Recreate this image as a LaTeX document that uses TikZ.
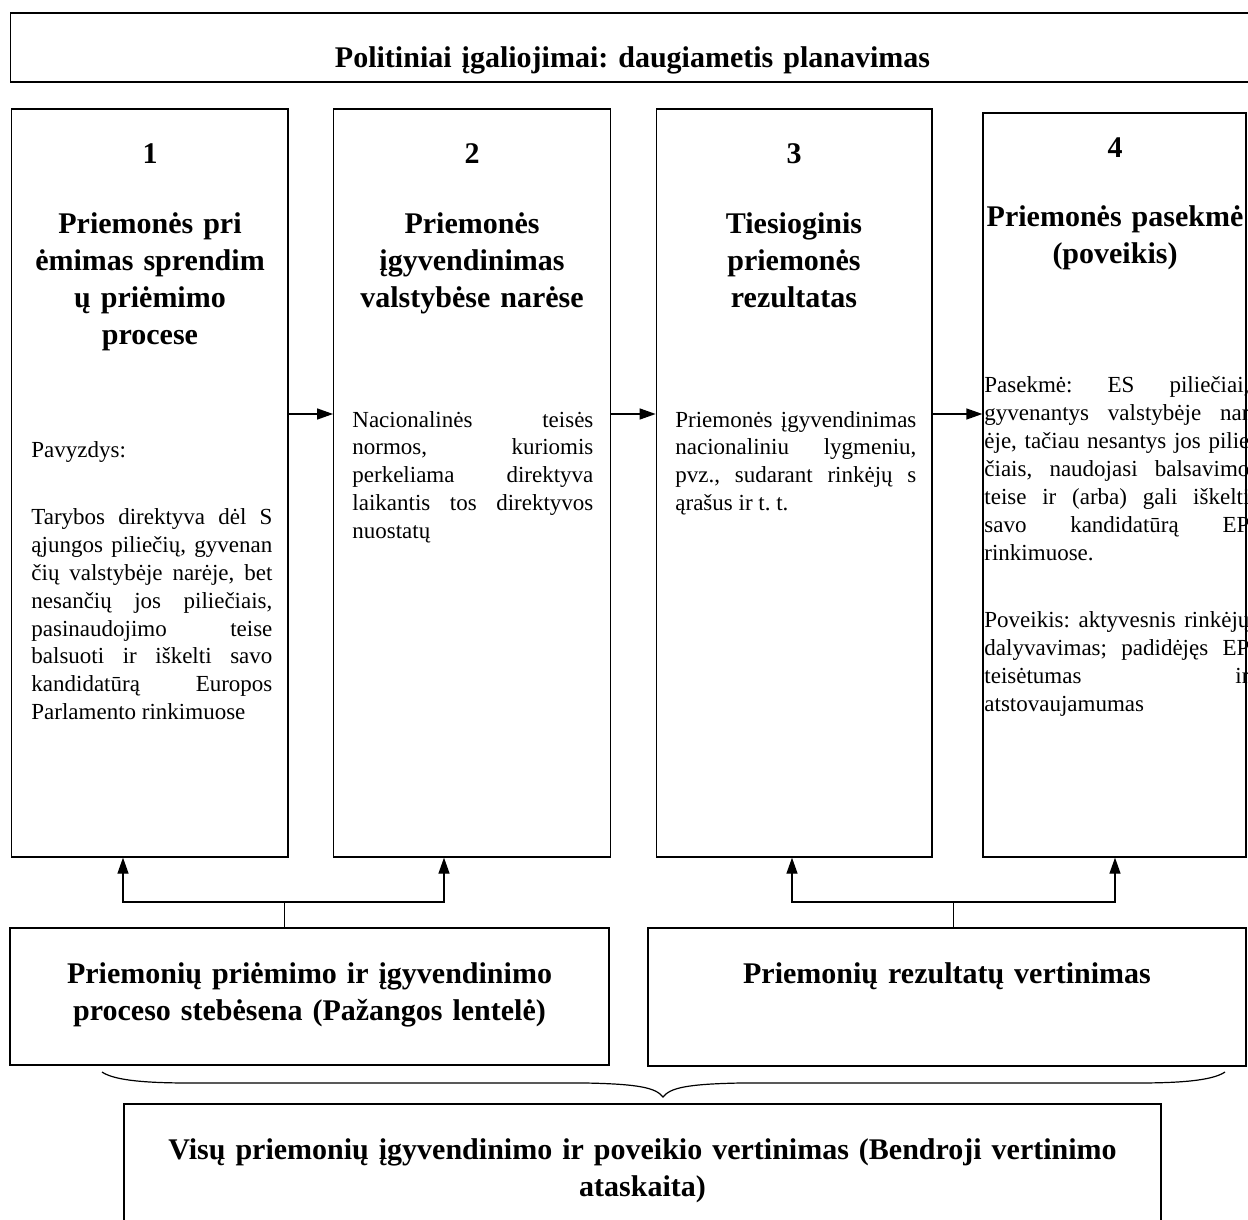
\documentclass[tikz,border=0pt]{standalone}
\usepackage{fontspec}
\setmainfont{Liberation Serif}
\usetikzlibrary{arrows.meta,positioning}
\frenchspacing

\tikzset{
  panel/.style={rectangle, draw, line width=0.65pt, inner sep=0pt},
  head/.style={font=\fontsize{15pt}{18.5pt}\selectfont\bfseries, align=center,
    text width=150pt, inner sep=0pt, anchor=base},
  body/.style={font=\fontsize{11.5pt}{13.9pt}\selectfont, align=justify,
    text width=120.5pt, inner sep=0pt, anchor=base west,
    execute at begin node={\parindent=0pt\tolerance=9999\hyphenpenalty=10000}},
  arr/.style={line width=0.65pt, -{Triangle[length=8pt,width=5.5pt]}},
  stem/.style={line width=0.45pt},
}

\begin{document}
\begin{tikzpicture}[x=0.5pt, y=-0.5pt]
  \useasboundingbox (0,0) rectangle (1248,1220);

  % frames
  \node[panel, minimum width=621.7pt, minimum height=34.5pt] (plan) at (632.3,47.5) {};
  \node[panel, minimum width=138.2pt, minimum height=374pt] (b1) at (149.9,483) {};
  \node[panel, minimum width=138.5pt, minimum height=374pt] (b2) at (472.2,483) {};
  \node[panel, minimum width=137.9pt, minimum height=374pt] (b3) at (794.2,483) {};
  \node[panel, minimum width=131.5pt, minimum height=372pt] (b4) at (1114.5,485) {};
  \node[panel, minimum width=299.5pt, minimum height=68.5pt] (b5) at (309.5,996.5) {};
  \node[panel, minimum width=299pt, minimum height=69pt] (b6) at (947,997) {};
  \node[panel, minimum width=518.5pt, minimum height=68pt] (b7) at (642.5,1172) {};

  % headings
  \node[head, text width=400pt] (plant) at (632.5,68) {Politiniai įgaliojimai: daugiametis planavimas};
  \node[head] (n1) at (150,163) {1};
  \node[head] (n2) at (472,163) {2};
  \node[head] (n3) at (794,163) {3};
  \node[head] (n4) at (1115,158) {4};
  \node[head] (t1) at (150,233) {Priemonės pri\\ėmimas sprendim\\ų priėmimo\\procese};
  \node[head] (t2) at (472,233) {Priemonės\\įgyvendinimas\\valstybėse narėse};
  \node[head] (t3) at (794,233) {Tiesioginis\\priemonės\\rezultatas};
  \node[head] (t4) at (1115,227) {Priemonės pasekmė\\(poveikis)};
  \node[head, text width=290pt] (t5) at (309.5,983) {Priemonių priėmimo ir įgyvendinimo\\proceso stebėsena (Pažangos lentelė)};
  \node[head, text width=290pt] (t6) at (947,983) {Priemonių rezultatų vertinimas};
  \node[head, text width=500pt] (t7) at (642.5,1159) {Visų priemonių įgyvendinimo ir poveikio vertinimas (Bendroji vertinimo\\ataskaita)};

  % body texts
  \node[body] (p1) at (31,457) {Pavyzdys:\par\vspace{20pt}Tarybos direktyva dėl S\linebreak ąjungos piliečių, gyvenan\linebreak čių valstybėje narėje, bet\linebreak nesančių jos piliečiais,\linebreak pasinaudojimo teise\linebreak balsuoti ir iškelti savo\linebreak kandidatūrą Europos\linebreak Parlamento rinkimuose};
  \node[body] (p2) at (352,427) {Nacionalinės teisės\linebreak normos, kuriomis\linebreak perkeliama direktyva\linebreak laikantis tos direktyvos\linebreak nuostatų};
  \node[body] (p3) at (675,427) {Priemonės įgyvendinimas\linebreak nacionaliniu lygmeniu,\linebreak pvz., sudarant rinkėjų s\linebreak ąrašus ir t. t.};
  \node[body, text width=132.5pt, font=\fontsize{11.5pt}{14pt}\selectfont] (p4) at (984,392) {Pasekmė: ES piliečiai,\linebreak gyvenantys valstybėje nar\linebreak ėje, tačiau nesantys jos pilie\linebreak čiais, naudojasi balsavimo\linebreak teise ir (arba) gali iškelti\linebreak savo kandidatūrą EP\linebreak rinkimuose.\par\vspace{19.5pt}Poveikis: aktyvesnis rinkėjų\linebreak dalyvavimas; padidėjęs EP\linebreak teisėtumas ir\linebreak atstovaujamumas};

  % flow between the steps
  \draw[arr] (b1.east |- 0,414) -- (b2.west |- 0,414);
  \draw[arr] (b2.east |- 0,414) -- (b3.west |- 0,414);
  \draw[arr] (b3.east |- 0,414) -- (b4.west |- 0,414);

  % monitoring and evaluation
  \coordinate (fork1) at (284,902);
  \coordinate (fork2) at (953,902);
  \draw[stem] (b5.north -| fork1) -- (fork1);
  \draw[arr] (fork1) -| (123,0 |- b1.south);
  \draw[arr] (fork1) -| (444,0 |- b2.south);
  \draw[stem] (b6.north -| fork2) -- (fork2);
  \draw[arr] (fork2) -| (792,0 |- b3.south);
  \draw[arr] (fork2) -| (1115,0 |- b4.south);

  % brace
  \draw[line width=0.6pt] (102,1072) .. controls (115,1081) and (150,1083) .. (190,1083)
    -- (585,1083) .. controls (640,1084) and (656,1088) .. (663,1097)
    .. controls (670,1088) and (686,1084) .. (741,1083)
    -- (1137,1083) .. controls (1177,1083) and (1212,1081) .. (1225,1072);
\end{tikzpicture}
\end{document}
